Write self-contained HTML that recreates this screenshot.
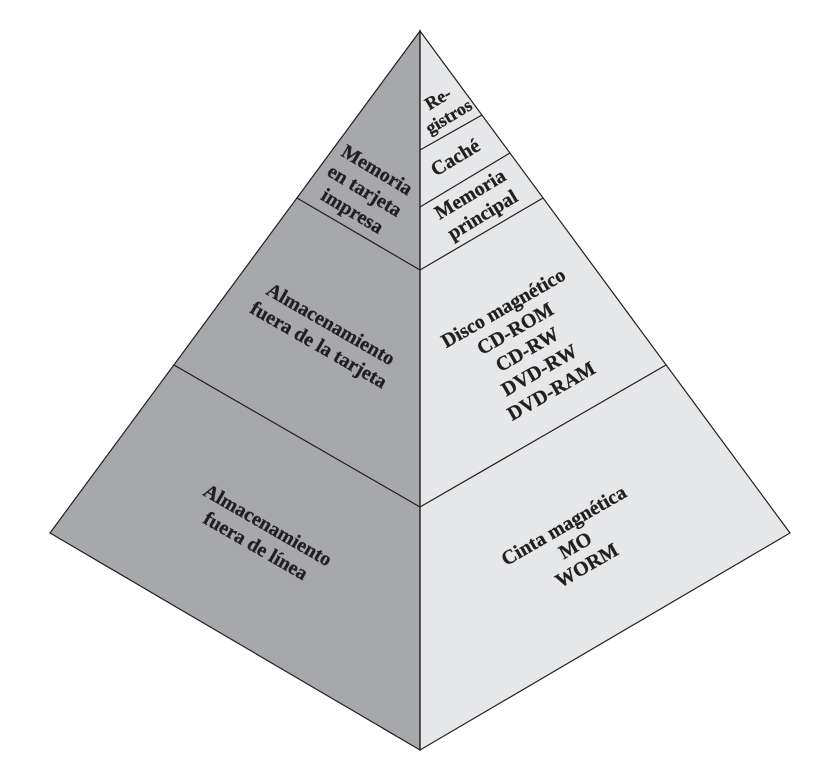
<!DOCTYPE html>
<html><head><meta charset="utf-8"><style>html,body{margin:0;padding:0;background:#fff}svg{display:block}</style></head>
<body>
<svg width="822" height="757" viewBox="0 0 822 757" xmlns="http://www.w3.org/2000/svg">
<polygon points="420,31 50,533 420,750" fill="#a7a8ab" stroke="#231f20" stroke-width="1.2"/>
<polygon points="420,31 790,533 420,750" fill="#e6e7e8" stroke="#231f20" stroke-width="1.2"/>
<g stroke="#231f20" stroke-width="1.2">
<line x1="297" y1="198" x2="420" y2="270"/>
<line x1="543" y1="198" x2="420" y2="270"/>
<line x1="174" y1="365" x2="420" y2="507"/>
<line x1="666" y1="365" x2="420" y2="507"/>
<line x1="420" y1="150" x2="482" y2="115"/>
<line x1="420" y1="207" x2="510" y2="153"/>
<line x1="420" y1="31" x2="420" y2="750"/>
</g>
<g font-family="Liberation Serif, serif" font-weight="bold" font-size="20" fill="#231f20" stroke="#231f20" stroke-width="0.3" text-anchor="middle">
<text transform="translate(365,190) rotate(31)"><tspan x="0" y="-17">Memoria</tspan><tspan x="0" y="7">en tarjeta</tspan><tspan x="0" y="31">impresa</tspan></text>
<text transform="translate(325,334) rotate(30)"><tspan x="0" y="-5">Almacenamiento</tspan><tspan x="0" y="19">fuera de la tarjeta</tspan></text>
<text transform="translate(262,535) rotate(30)"><tspan x="0" y="-5">Almacenamiento</tspan><tspan x="0" y="19">fuera de línea</tspan></text>
<text transform="translate(443,107) rotate(-31)" font-size="18"><tspan x="0" y="-4">Re-</tspan><tspan x="0" y="17">gistros</tspan></text>
<text transform="translate(455,157) rotate(-31)"><tspan x="0" y="7">Caché</tspan></text>
<text transform="translate(476,204) rotate(-31)"><tspan x="0" y="-5">Memoria</tspan><tspan x="0" y="19">principal</tspan></text>
<text transform="translate(527,349) rotate(-30)"><tspan x="0" y="-41">Disco magnético</tspan><tspan x="0" y="-17">CD-ROM</tspan><tspan x="0" y="7">CD-RW</tspan><tspan x="0" y="31">DVD-RW</tspan><tspan x="0" y="55">DVD-RAM</tspan></text>
<text transform="translate(575,545) rotate(-30)"><tspan x="0" y="-16">Cinta magnética</tspan><tspan x="0" y="7">MO</tspan><tspan x="0" y="30">WORM</tspan></text>
</g>
</svg>
</body></html>
